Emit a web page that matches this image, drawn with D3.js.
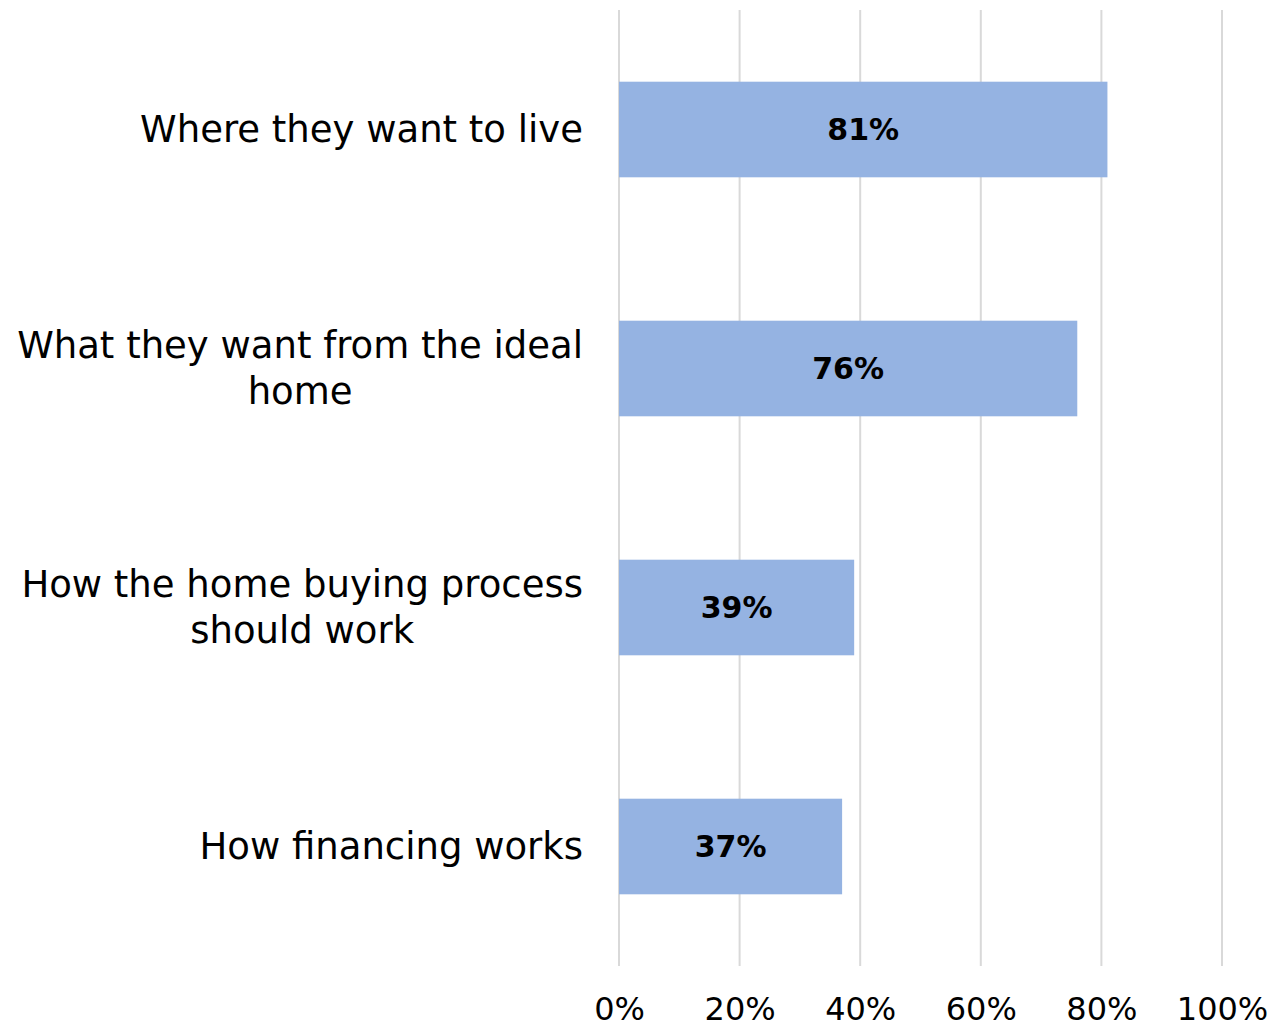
<!DOCTYPE html>
<html><head><meta charset="utf-8">
<script src="https://cdn.jsdelivr.net/npm/d3@7"></script>
<style>body{margin:0;background:#fff}svg{display:block}</style>
</head><body>
<script>
const categories = [
  ["Where they want to live"],
  ["What they want from the ideal", "home"],
  ["How the home buying process", "should work"],
  ["How financing works"]
];
const values = [81, 76, 39, 37];
const tickValues = [0, 20, 40, 60, 80, 100];

const W = 1282, H = 1028;
const svg = d3.select("body").append("svg").attr("width", W).attr("height", H);
const FONT = "'DejaVu Sans', sans-serif";

const x = d3.scaleLinear().domain([0, 100]).range([619, 1222]);
const y = d3.scaleBand().domain(d3.range(categories.length)).range([10, 966]).paddingInner(0.6).paddingOuter(0.3);

// gridlines
svg.append("g").selectAll("line").data(tickValues).join("line")
  .attr("x1", d => x(d)).attr("x2", d => x(d))
  .attr("y1", 10).attr("y2", 966)
  .attr("stroke", "#d9d9d9").attr("stroke-width", 2);

// bars
svg.append("g").selectAll("rect").data(values).join("rect")
  .attr("x", x(0)).attr("y", (d, i) => y(i))
  .attr("width", d => x(d) - x(0)).attr("height", y.bandwidth())
  .attr("fill", "#95b3e2");

// value labels
svg.append("g").selectAll("text").data(values).join("text")
  .attr("x", d => (x(0) + x(d)) / 2)
  .attr("y", (d, i) => y(i) + y.bandwidth() / 2)
  .attr("dy", "0.36em")
  .attr("text-anchor", "middle")
  .attr("font-family", FONT).attr("font-weight", "bold").attr("font-size", 30)
  .attr("fill", "#000")
  .text(d => d + "%");

// x axis tick labels
const axis = d3.axisBottom(x).tickValues(tickValues).tickSize(0).tickPadding(0).tickFormat(d => d + "%");
const gx = svg.append("g").attr("transform", "translate(0,1020)").call(axis);
gx.select(".domain").remove();
gx.selectAll("text").attr("font-family", FONT).attr("font-size", 32).attr("fill", "#000").attr("dy", 0).attr("y", 0);

// category labels
const labelRight = 583, lineH = 46;
const lg = svg.append("g");
categories.forEach((lines, i) => {
  const cy = y(i) + y.bandwidth() / 2;
  const t = lg.append("text").attr("font-family", FONT).attr("font-size", 37).attr("fill", "#000");
  const n = lines.length;
  const spans = lines.map((ln, k) => t.append("tspan").text(ln)
    .attr("y", cy + (k - (n - 1) / 2) * lineH).attr("dy", "0.35em"));
  if (n === 1) {
    t.attr("text-anchor", "end"); spans[0].attr("x", labelRight);
  } else {
    const maxW = d3.max(spans, s => s.node().getComputedTextLength());
    t.attr("text-anchor", "middle");
    spans.forEach(s => s.attr("x", labelRight - maxW / 2));
  }
});
</script>
</body></html>
